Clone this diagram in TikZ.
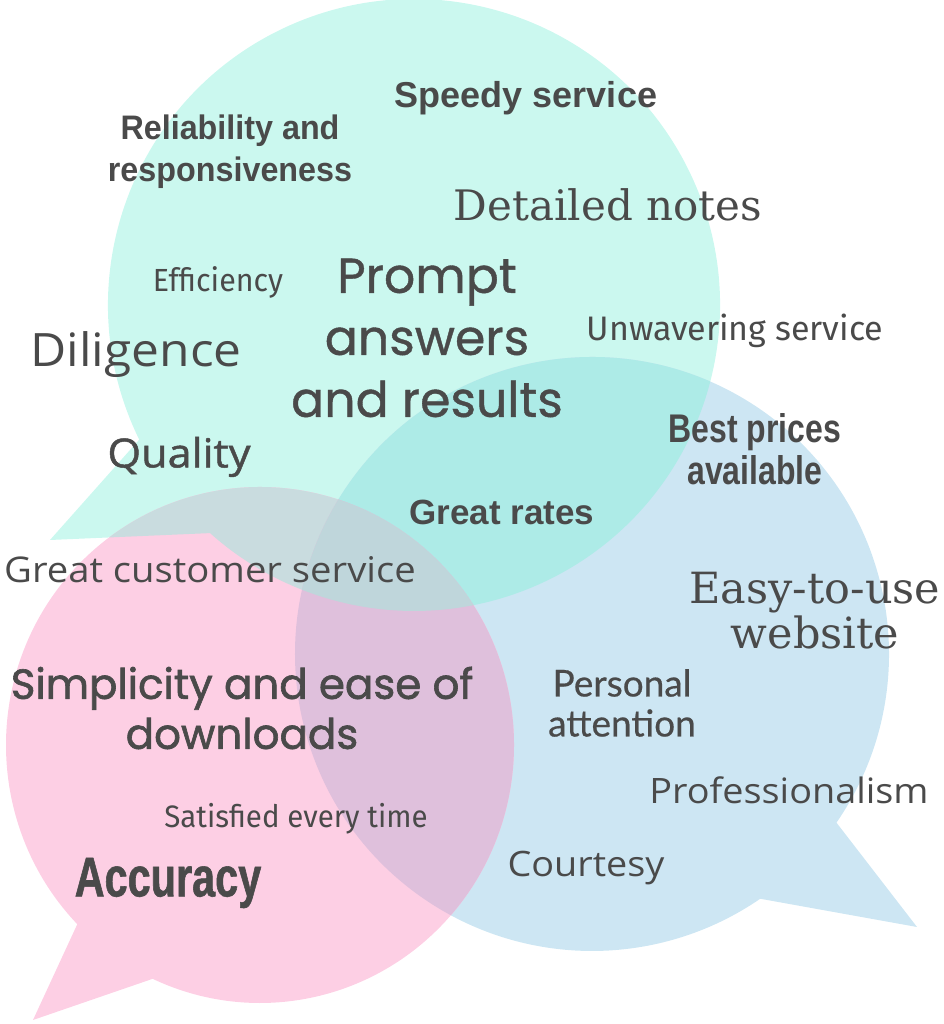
\documentclass[tikz,border=0pt]{standalone}
\usepackage{fontspec}
\usetikzlibrary{calc}
\newfontfamily\robo{Liberation Sans}
\newfontfamily\roboc[FakeStretch=0.95]{Liberation Sans}
\newfontfamily\oswa[FakeStretch=0.8]{Liberation Sans}
\newfontfamily\anton[FakeStretch=0.74,FakeBold=1]{Liberation Sans}
\newfontfamily\merri{DejaVu Serif}
\newfontfamily\rounded[FakeBold=0.8]{Poppins}
\newfontfamily\roundedb[FakeBold=1.5]{Poppins}
\newfontfamily\works[FakeStretch=1.08]{Open Sans}
\newfontfamily\worksm[FakeStretch=1.08,FakeBold=1.2]{Open Sans}
\newfontfamily\firac[FakeStretch=0.95]{Fira Sans}
\newfontfamily\fira{Fira Sans}
\newfontfamily\lato[FakeBold=0.5]{Lato}
\definecolor{ink}{HTML}{4A4A4A}
\definecolor{teal0}{HTML}{CBF8EF}
\definecolor{blue0}{HTML}{CDE6F3}
\definecolor{pink0}{HTML}{FDCFE4}
\definecolor{tealblue}{HTML}{ADEBE7}
\definecolor{tealpink}{HTML}{C9DCDF}
\definecolor{bluepink}{HTML}{DFC0DC}
\definecolor{allthree}{HTML}{BFD6DB}
% the three speech bubbles (pixel coordinates, y up)
\newcommand\tealshape{(50,484) -- ($(414,719)+(206.1:306)$) arc [start angle=206.1, end angle=-131.8, radius=306] -- cycle}
\newcommand\blueshape{(917,97) -- ($(592,370)+(-34.6:297)$) arc [start angle=-34.6, end angle=304.5, radius=297] -- cycle}
\newcommand\pinkshape{(33,4) -- ($(260,279)+(224:254 and 258)$) arc [start angle=224, end angle=-115, x radius=254, y radius=258] -- cycle}
\tikzset{
  word/.style={text=ink, inner sep=0pt, align=center}
}
\begin{document}
\begin{tikzpicture}[x=1pt, y=1pt]
    \useasboundingbox (0, 0) rectangle (943, 1024);
    \fill [teal0] \tealshape;
    \fill [blue0] \blueshape;
    \fill [pink0] \pinkshape;
    % overlaps
    \begin{scope}
        \clip \blueshape;
        \fill [tealblue] \tealshape;
    \end{scope}
    \begin{scope}
        \clip \pinkshape;
        \fill [tealpink] \tealshape;
    \end{scope}
    \begin{scope}
        \clip \pinkshape;
        \fill [bluepink] \blueshape;
    \end{scope}
    \begin{scope}
        \clip \pinkshape;
        \clip \blueshape;
        \fill [allthree] \tealshape;
    \end{scope}
    % words
    \node [word, font=\robo\bfseries\fontsize{36}{42}\selectfont] (speedy) at (526, 926) {Speedy service};
    \node [word, font=\roboc\bfseries\fontsize{34}{42}\selectfont] (reliable) at (230, 872) {Reliability and\\responsiveness};
    \node [word, font=\merri\fontsize{42}{48}\selectfont] (notes) at (608, 819) {Detailed notes};
    \node [word, font=\firac\fontsize{32}{38}\selectfont] (efficiency) at (218, 742) {Efficiency};
    \node [word, font=\rounded\fontsize{49}{62}\selectfont] (prompt) at (427, 686) {Prompt\\answers\\and results};
    \node [word, font=\fira\fontsize{34}{40}\selectfont] (unwavering) at (735, 693) {Unwavering service};
    \node [word, font=\works\fontsize{46}{52}\selectfont] (diligence) at (136, 669) {Diligence};
    \node [word, font=\worksm\fontsize{40}{46}\selectfont] (quality) at (179, 567) {Quality};
    \node [word, font=\oswa\bfseries\fontsize{40}{42}\selectfont] (prices) at (755, 575) {Best prices\\available};
    \node [word, font=\robo\bfseries\fontsize{35}{40}\selectfont] (rates) at (502, 512) {Great rates};
    \node [word, font=\works\fontsize{35.4}{40}\selectfont] (customer) at (210, 454) {Great customer service};
    \node [word, font=\merri\fontsize{43}{45}\selectfont] (website) at (815, 413) {Easy-to-use\\website};
    \node [word, font=\roundedb\fontsize{42}{50}\selectfont] (downloads) at (242, 316) {Simplicity and ease of\\downloads};
    \node [word, font=\lato\fontsize{37}{40}\selectfont] (attention) at (622, 321) {Personal\\attention};
    \node [word, font=\works\fontsize{35}{40}\selectfont] (professional) at (789, 234) {Professionalism};
    \node [word, font=\firac\fontsize{31}{36}\selectfont] (satisfied) at (296, 205) {Satisfied every time};
    \node [word, font=\anton\bfseries\fontsize{56}{60}\selectfont] (accuracy) at (168, 141) {Accuracy};
    \node [word, font=\works\fontsize{35}{40}\selectfont] (courtesy) at (586, 156) {Courtesy};
\end{tikzpicture}
\end{document}
